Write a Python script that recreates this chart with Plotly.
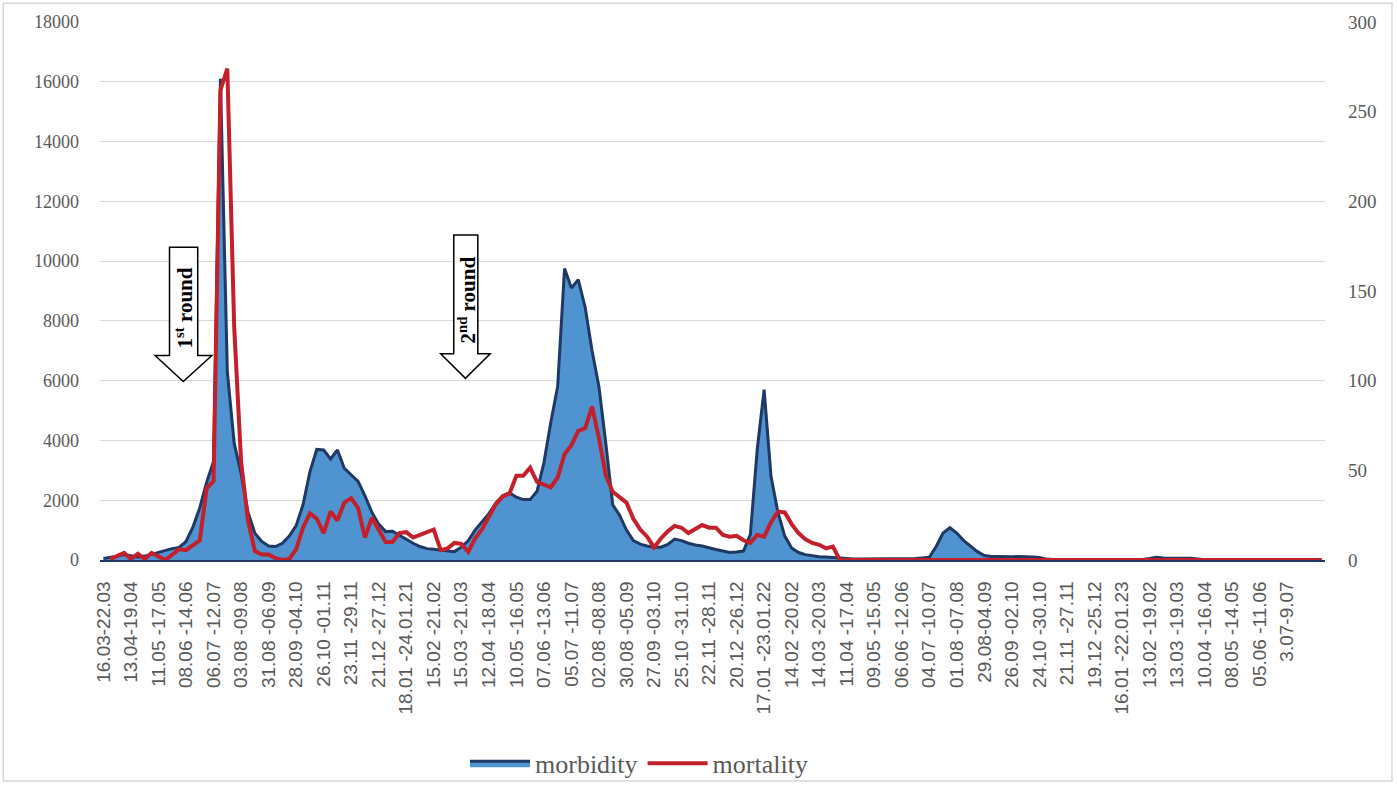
import plotly.graph_objects as go

weeks = list(range(178))

tick_labels = [
    "16.03-22.03", "13.04-19.04", "11.05 -17.05", "08.06 -14.06", "06.07 -12.07",
    "03.08 -09.08", "31.08 -06.09", "28.09 -04.10", "26.10 -01.11", "23.11 -29.11",
    "21.12 -27.12", "18.01 -24.01.21", "15.02 -21.02", "15.03 -21.03", "12.04 -18.04",
    "10.05 -16.05", "07.06 -13.06", "05.07 -11.07", "02.08 -08.08", "30.08 -05.09",
    "27.09 -03.10", "25.10 -31.10", "22.11 -28.11", "20.12 -26.12", "17.01 -23.01.22",
    "14.02 -20.02", "14.03 -20.03", "11.04 -17.04", "09.05 -15.05", "06.06 -12.06",
    "04.07 -10.07", "01.08 -07.08", "29.08-04.09", "26.09 -02.10", "24.10 -30.10",
    "21.11 -27.11", "19.12 -25.12", "16.01 -22.01.23", "13.02 -19.02", "13.03 -19.03",
    "10.04 -16.04", "08.05 -14.05", "05.06 -11.06", "3.07-9.07",
]
tick_weeks = list(range(0, 4 * len(tick_labels), 4))

morbidity = [
    50, 80, 130, 180, 140, 100, 130, 190, 260, 330,
    380, 420, 620, 1100, 1750, 2600, 3300, 16100, 6300, 3900,
    2900, 1600, 900, 620, 470, 450, 560, 800, 1150, 1850,
    2950, 3700, 3680, 3380, 3680, 3070, 2850, 2630, 2150, 1600,
    1200, 950, 960, 820, 680, 560, 450, 380, 360, 340,
    300, 280, 430, 640, 1000, 1280, 1550, 1900, 2150, 2250,
    2100, 2020, 2020, 2300, 3250, 4600, 5800, 9750, 9100, 9380,
    8450, 7000, 5800, 3900, 1850, 1500, 1000, 650, 530, 470,
    430, 430, 520, 700, 650, 560, 500, 470, 400, 350,
    300, 250, 270, 300, 850, 3700, 5700, 2800, 1600, 800,
    400, 250, 180, 140, 110, 100, 80, 60, 40, 35,
    30, 30, 30, 30, 30, 30, 35, 40, 50, 70,
    90, 450, 900, 1080, 900, 650, 450, 280, 150, 120,
    120, 110, 110, 120, 120, 100, 80, 30, 20, 20,
    15, 10, 10, 10, 10, 10, 10, 10, 10, 10,
    10, 20, 50, 90, 70, 60, 60, 60, 60, 30,
    10, 10, 10, 10, 10, 10, 10, 10, 10, 10,
    10, 10, 10, 10, 10, 10, 10, 10,
]

mortality = [
    None, 0.5, 2, 4, 0.5, 3.5, 0.5, 4, 2, 0,
    3, 6, 5.5, 8, 11, 40, 44, 262, 274, 130,
    55, 22, 5, 3, 3, 1, 0, 0.5, 6, 18,
    26, 23, 15, 27, 22, 32, 34.5, 29, 12.5, 23.5,
    17, 10, 10, 15, 15.5, 12.5, 14, 15.5, 17, 5.5,
    6.5, 9.5, 9, 4.5, 12, 17, 24, 31, 35.5, 37,
    47, 47, 51.5, 43.5, 42, 40.5, 46, 59, 64, 72,
    73.5, 85.5, 68, 47, 38, 35, 32, 23, 17, 13,
    7, 12, 16, 19, 18, 15, 17, 19.5, 18, 18,
    14, 13, 13.5, 11, 9.5, 14, 13, 21, 27, 26.5,
    20, 15, 11.5, 9.5, 8.5, 6.5, 7.5, 0, 0, 0,
] + [0] * 68

fig = go.Figure()
fig.add_trace(go.Scatter(
    x=weeks, y=morbidity, name="morbidity", mode="lines",
    fill="tozeroy", fillcolor="#4F94D0",
    line=dict(color="#1F3864", width=3),
))
fig.add_trace(go.Scatter(
    x=weeks, y=mortality, name="mortality", mode="lines", yaxis="y2",
    line=dict(color="#C4202B", width=4), connectgaps=False,
))

arrow1 = "M 9.6,10460 L 13.7,10460 L 13.7,6840 L 15.75,6840 L 11.6,5970 L 7.5,6840 L 9.6,6840 Z"
arrow2 = "M 50.9,10870 L 54.4,10870 L 54.4,6900 L 56.2,6900 L 52.6,6077 L 49.0,6900 L 50.9,6900 Z"
for p in (arrow1, arrow2):
    fig.add_shape(type="path", path=p, xref="x", yref="y",
                  fillcolor="white", line=dict(color="black", width=1.5))

fig.add_annotation(x=11.7, y=8450, xref="x", yref="y", text="<b>1<sup>st</sup> round</b>",
                   textangle=-90, showarrow=False,
                   font=dict(family="Liberation Serif", size=21, color="black"))
fig.add_annotation(x=52.9, y=8700, xref="x", yref="y", text="<b>2<sup>nd</sup> round</b>",
                   textangle=-90, showarrow=False,
                   font=dict(family="Liberation Serif", size=21, color="black"))

# chart border
fig.add_shape(type="rect", xref="paper", yref="paper",
              x0=-0.079, x1=1.0547, y0=-0.4106, y1=1.0347,
              line=dict(color="#D9D9D9", width=1.5), fillcolor="rgba(0,0,0,0)", layer="below")

fig.update_layout(
    width=1397, height=799,
    margin=dict(l=100, r=72, t=22, b=229),
    paper_bgcolor="white", plot_bgcolor="white",
    showlegend=True,
    legend=dict(orientation="h", x=0.44, xanchor="center", y=-0.378, yanchor="middle",
                font=dict(family="Liberation Serif", size=26, color="#595959"),
                itemwidth=60, bgcolor="rgba(0,0,0,0)"),
    xaxis=dict(range=[-0.5, 177.5], tickmode="array", tickvals=tick_weeks, ticktext=tick_labels,
               tickangle=-90, showgrid=False, zeroline=False, ticks="", ticklabelstandoff=12,
               showline=True, linecolor="#1F3864", linewidth=1.5,
               tickfont=dict(family="Liberation Sans", size=19, color="#595959")),
    yaxis=dict(range=[0, 18000], dtick=2000, tickformat="d", showgrid=True,
               gridcolor="#D9D9D9", gridwidth=1,
               zeroline=False, showline=False, ticks="", ticklabelstandoff=20,
               tickfont=dict(family="Liberation Serif", size=18, color="#595959")),
    yaxis2=dict(range=[0, 300], dtick=50, overlaying="y", side="right", showgrid=False,
                zeroline=False, showline=False, ticks="", ticklabelstandoff=22,
                tickfont=dict(family="Liberation Serif", size=19, color="#595959")),
)

fig.write_html("out.html", config={"displayModeBar": False},
               post_script="document.body.style.margin='0';document.body.style.overflow='hidden';")
